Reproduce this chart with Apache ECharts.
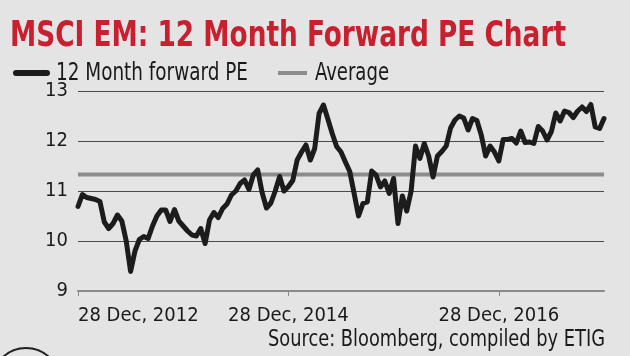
<!DOCTYPE html>
<html>
<head>
<meta charset="utf-8">
<script src="https://cdn.jsdelivr.net/npm/echarts@6/dist/echarts.min.js"></script>
<style>
html,body{margin:0;padding:0;background:#e4e4e4;}
#c{width:630px;height:356px;}
</style>
</head>
<body>
<div id="c"></div>
<script>
// ---- data (semi-monthly readings, 28 Dec 2012 -> 28 Dec 2017) ----
const titleText = 'MSCI EM: 12 Month Forward PE Chart';
const seriesNames = ['12 Month forward PE', 'Average'];
const sourceText = 'Source: Bloomberg, compiled by ETIG';
const pe = [
 10.69,10.93,10.87,10.85,10.83,10.79,10.38,10.25,10.35,10.52,
 10.40,10.00,9.39,9.80,10.03,10.09,10.05,10.30,10.50,10.62,
 10.62,10.39,10.63,10.40,10.30,10.20,10.12,10.10,10.25,9.95,
 10.42,10.57,10.47,10.65,10.74,10.92,11.00,11.15,11.22,11.03,
 11.32,11.42,10.97,10.66,10.76,11.00,11.29,11.00,11.09,11.21,
 11.62,11.78,11.92,11.62,11.85,12.55,12.72,12.44,12.15,11.89,
 11.78,11.58,11.39,10.95,10.50,10.75,10.78,11.40,11.32,11.08,
 11.20,10.95,11.25,10.35,10.90,10.60,11.00,11.90,11.65,11.95,
 11.70,11.28,11.70,11.79,11.90,12.26,12.42,12.50,12.46,12.22,
 12.45,12.41,12.12,11.70,11.90,11.78,11.60,12.03,12.03,12.05,
 11.96,12.20,11.97,11.98,11.95,12.29,12.20,12.02,12.19,12.56,
 12.40,12.60,12.57,12.47,12.60,12.68,12.59,12.73,12.28,12.25,
 12.45
];
const averagePE = 11.33;
const periodsTotal = 120;          // half-month periods on the axis
const tickPeriods = [0, 48, 96];   // 28 Dec 2012, 2014, 2016
const tickLabels = ['28 Dec, 2012', '28 Dec, 2014', '28 Dec, 2016'];
const yMin = 9, yMax = 13, yStep = 1;

// ---- chart ----
const FONT = "'Liberation Sans Narrow','Arial Narrow','DejaVu Sans Condensed',sans-serif";
const mctx = document.createElement('canvas').getContext('2d');
function fitScale(text, font, targetW) {
  mctx.font = font;
  return targetW / mctx.measureText(text).width;
}
const titleFont = "bold 36px " + FONT;
const legFont = "24px " + FONT;
const srcFont = "23px " + FONT;

const chart = echarts.init(document.getElementById('c'), null, {renderer: 'canvas'});
const peData = pe.map((v, i) => [i, v]);
const avgData = [[0, averagePE], [periodsTotal, averagePE]];

chart.setOption({
  backgroundColor: '#e4e4e4',
  animation: false,
  grid: {left: 78, right: 26, top: 91, bottom: 65, containLabel: false},
  xAxis: {
    type: 'value', min: 0, max: periodsTotal,
    splitLine: {show: false},
    axisLine: {show: true, lineStyle: {color: '#8a8a8a', width: 2}},
    axisTick: {show: true, customValues: tickPeriods, length: 5, lineStyle: {color: '#8a8a8a', width: 1}},
    axisLabel: {
      customValues: tickPeriods,
      formatter: v => tickLabels[tickPeriods.indexOf(v)] || '',
      color: '#1a1a1a', fontFamily: FONT, fontSize: 20, margin: 15,
      showMinLabel: true, hideOverlap: false,
      alignMinLabel: 'left'
    }
  },
  yAxis: {
    type: 'value', min: yMin, max: yMax, interval: yStep,
    axisLine: {show: false}, axisTick: {show: false},
    splitLine: {show: true, lineStyle: {color: '#4a4a4a', width: 1}},
    axisLabel: {color: '#1a1a1a', fontFamily: FONT, fontSize: 20, margin: 10}
  },
  series: [
    {name: seriesNames[1], type: 'line', data: avgData, symbol: 'none',
     lineStyle: {color: '#8c8c8c', width: 4}, z: 2},
    {name: seriesNames[0], type: 'line', data: peData, symbol: 'none',
     lineStyle: {color: '#1c1c1c', width: 5, join: 'round', cap: 'round'}, z: 3}
  ],
  graphic: [
    {type: 'text', x: 10, y: 37, scaleX: fitScale(titleText, titleFont, 556),
      style: {text: titleText, fill: '#c8202f', font: titleFont, verticalAlign: 'middle'}},
    {type: 'line', shape: {x1: 16, y1: 73, x2: 47, y2: 73},
      style: {stroke: '#1c1c1c', lineWidth: 6, lineCap: 'round'}},
    {type: 'text', x: 56, y: 74, scaleX: fitScale(seriesNames[0], legFont, 192),
      style: {text: seriesNames[0], fill: '#1a1a1a', font: legFont, verticalAlign: 'middle'}},
    {type: 'line', shape: {x1: 278, y1: 73, x2: 307, y2: 73},
      style: {stroke: '#8c8c8c', lineWidth: 4}},
    {type: 'text', x: 315, y: 74, scaleX: fitScale(seriesNames[1], legFont, 74),
      style: {text: seriesNames[1], fill: '#1a1a1a', font: legFont, verticalAlign: 'middle'}},
    {type: 'text', x: 605, y: 340, scaleX: fitScale(sourceText, srcFont, 337),
      style: {text: sourceText, fill: '#1a1a1a', font: srcFont, align: 'right', verticalAlign: 'middle'}},
    {type: 'circle', shape: {cx: 26, cy: 382, r: 34},
      style: {fill: 'none', stroke: '#222', lineWidth: 2}}
  ]
});
</script>
</body>
</html>
